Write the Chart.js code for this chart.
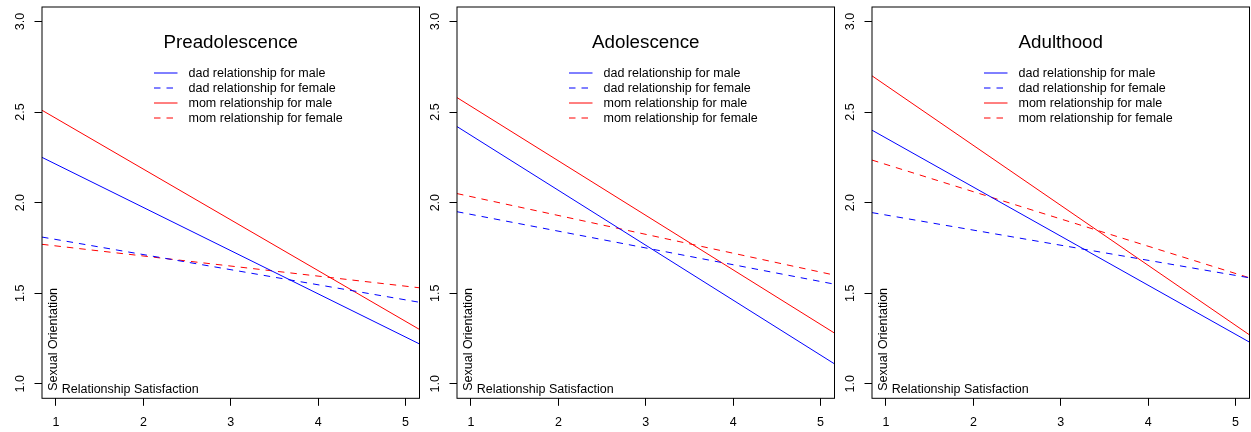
<!DOCTYPE html>
<html>
<head>
<meta charset="utf-8">
<script src="https://cdn.jsdelivr.net/npm/chart.js@4.4.0/dist/chart.umd.min.js"></script>
<style>
  html, body { margin: 0; padding: 0; background: #ffffff; }
  body { width: 1251px; height: 432px; position: relative; overflow: hidden; }
  .panel { position: absolute; top: 0; width: 422px; height: 432px; }
</style>
</head>
<body>
<div class="panel" style="left:0px"><canvas id="c0" width="422" height="432"></canvas></div>
<div class="panel" style="left:415px"><canvas id="c1" width="422" height="432"></canvas></div>
<div class="panel" style="left:830px"><canvas id="c2" width="422" height="432"></canvas></div>
<script>
// ---- data ----
const panelTitles = ["Preadolescence", "Adolescence", "Adulthood"];
const seriesLabels = ["dad relationship for male", "dad relationship for female",
                      "mom relationship for male", "mom relationship for female"];
const xEnds = [0.84, 5.16];           // the lines span the whole plotting range
const xTicks = [1, 2, 3, 4, 5];
const xTickLabels = ["1", "2", "3", "4", "5"];
const yTicks = [1.0, 1.5, 2.0, 2.5, 3.0];
const yTickLabels = ["1.0", "1.5", "2.0", "2.5", "3.0"];

const preDadMale     = [2.25, 1.22];
const preDadFemale   = [1.81, 1.45];
const preMomMale     = [2.51, 1.30];
const preMomFemale   = [1.77, 1.53];

const adoDadMale     = [2.42, 1.11];
const adoDadFemale   = [1.95, 1.55];
const adoMomMale     = [2.58, 1.28];
const adoMomFemale   = [2.05, 1.60];

const aduDadMale     = [2.40, 1.23];
const aduDadFemale   = [1.945, 1.585];
const aduMomMale     = [2.70, 1.27];
const aduMomFemale   = [2.235, 1.585];

const panelSeries = [
  [preDadMale, preDadFemale, preMomMale, preMomFemale],
  [adoDadMale, adoDadFemale, adoMomMale, adoMomFemale],
  [aduDadMale, aduDadFemale, aduMomMale, aduMomFemale]
];
const xAxisTitle = "Relationship Satisfaction";
const yAxisTitle = "Sexual Orientation";

// ---- styling ----
const FONT = "'Liberation Sans', Arial, Helvetica, sans-serif";
const BASE = 12.5;
const seriesColors = ["#0000ff", "#0000ff", "#ff0000", "#ff0000"];
const seriesDash = [[], [6.5, 6], [], [6.5, 6]];

Chart.defaults.font.family = FONT;
Chart.defaults.font.size = BASE;
Chart.defaults.color = "#000000";

const decoPlugin = {
  id: 'rdeco',
  afterDraw(chart, args, opts) {
    const ctx = chart.ctx;
    const a = chart.chartArea;
    const ys = chart.scales.y;
    ctx.save();
    // box
    ctx.strokeStyle = "#000000";
    ctx.lineWidth = 1;
    ctx.setLineDash([]);
    ctx.strokeRect(a.left, a.top, a.right - a.left, a.bottom - a.top);
    // y tick labels, rotated like R's default las = 0
    ctx.fillStyle = "#000000";
    ctx.font = BASE + "px " + FONT;
    ctx.textAlign = "center";
    ctx.textBaseline = "middle";
    ys.ticks.forEach((t) => {
      const i = yTicks.findIndex(v => Math.abs(v - t.value) < 1e-9);
      if (i < 0) return;
      ctx.save();
      ctx.translate(a.left - 21.5, ys.getPixelForValue(t.value));
      ctx.rotate(-Math.PI / 2);
      ctx.fillText(yTickLabels[i], 0, 0);
      ctx.restore();
    });
    // title inside plot
    ctx.font = (BASE * 1.5) + "px " + FONT;
    ctx.textAlign = "center";
    ctx.textBaseline = "middle";
    ctx.fillText(opts.title, (a.left + a.right) / 2, a.top + 35.5);
    // legend
    ctx.font = BASE + "px " + FONT;
    ctx.textAlign = "left";
    chart.data.datasets.forEach((ds, i) => {
      const y = a.top + 66 + i * 15;
      ctx.beginPath();
      ctx.strokeStyle = ds.borderColor;
      ctx.lineWidth = 1;
      ctx.setLineDash(ds.borderDash || []);
      ctx.moveTo(a.left + 112, y);
      ctx.lineTo(a.left + 135.5, y);
      ctx.stroke();
      ctx.setLineDash([]);
      ctx.fillStyle = "#000000";
      ctx.fillText(ds.label, a.left + 146.5, y + 0.5);
    });
    // axis titles drawn inside plotting region
    ctx.font = BASE + "px " + FONT;
    ctx.fillStyle = "#000000";
    ctx.textAlign = "left";
    ctx.textBaseline = "alphabetic";
    ctx.fillText(xAxisTitle, a.left + 19.7, a.bottom - 5);
    ctx.save();
    ctx.translate(a.left + 11.8, a.bottom - 7.5);
    ctx.rotate(-Math.PI / 2);
    ctx.textBaseline = "middle";
    ctx.fillText(yAxisTitle, 0, 0);
    ctx.restore();
    ctx.restore();
  }
};

function makePanel(idx) {
  const datasets = panelSeries[idx].map((vals, s) => ({
    label: seriesLabels[s],
    data: xEnds.map((x, k) => ({ x: x, y: vals[k] })),
    borderColor: seriesColors[s],
    borderDash: seriesDash[s],
    borderWidth: 1,
    pointRadius: 0,
    tension: 0,
    fill: false
  }));
  new Chart(document.getElementById("c" + idx), {
    type: 'line',
    data: { datasets },
    plugins: [decoPlugin],
    options: {
      responsive: false,
      animation: false,
      devicePixelRatio: 1,
      layout: { padding: { top: 7, right: 2.5, left: 0, bottom: 0 } },
      plugins: {
        legend: { display: false },
        tooltip: { enabled: false },
        rdeco: { title: panelTitles[idx] }
      },
      scales: {
        x: {
          type: 'linear',
          min: 0.84, max: 5.16,
          afterBuildTicks: (sc) => { sc.ticks = xTicks.map(v => ({ value: v })); },
          afterFit: (sc) => { sc.height = 33.7; },
          ticks: {
            callback: (v) => xTickLabels[xTicks.indexOf(v)] ?? "",
            padding: 9.5,
            maxRotation: 0, minRotation: 0,
            autoSkip: false,
            color: "#000000"
          },
          grid: { display: true, drawOnChartArea: false, drawTicks: true, tickLength: 7.5, color: "#000000", lineWidth: 1 },
          border: { display: false }
        },
        y: {
          type: 'linear',
          min: 0.92, max: 3.08,
          afterBuildTicks: (sc) => { sc.ticks = yTicks.map(v => ({ value: v })); },
          afterFit: (sc) => { sc.width = 42; },
          ticks: {
            display: false,
            autoSkip: false
          },
          grid: { display: true, drawOnChartArea: false, drawTicks: true, tickLength: 7.5, color: "#000000", lineWidth: 1 },
          border: { display: false }
        }
      }
    }
  });
}
[0, 1, 2].forEach(makePanel);
</script>
</body>
</html>
